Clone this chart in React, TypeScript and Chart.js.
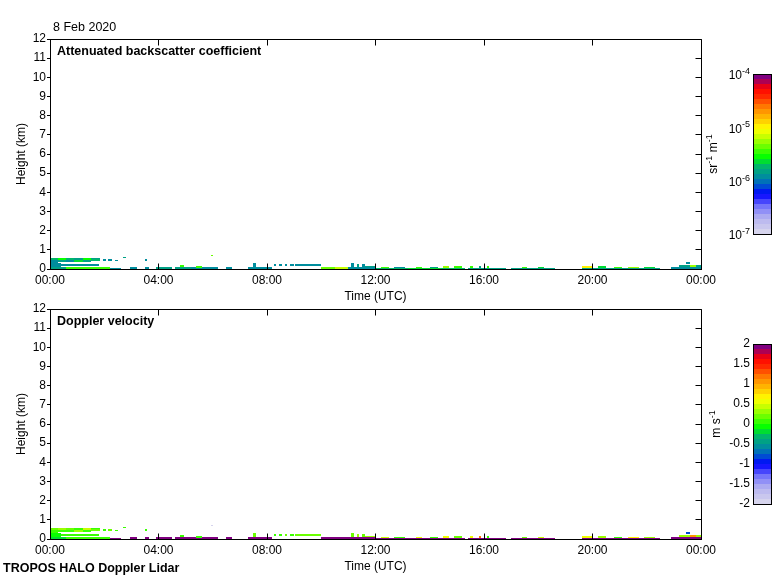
import React, { useEffect, useRef } from 'react';
import { Chart, registerables } from 'chart.js';

Chart.register(...registerables);

const FONT = '"Liberation Sans", Arial, Helvetica, sans-serif';

// ---- Data: lidar echo cells (time in hours UTC, height in km) ----
const segStart = [0.00, 0.00, 0.30, 0.30, 0.60, 0.60, 0.90, 0.90, 1.20, 1.20, 1.50, 1.50, 0.00, 0.40, 0.00, 0.60, 2.20, 1.95, 2.15, 2.40, 2.70, 3.50, 5.93, 2.95, 3.50, 3.90, 4.60, 4.80, 5.20, 5.40, 6.50, 7.30, 7.50, 8.25, 8.45, 8.65, 8.85, 9.05, 10.00, 10.50, 11.00, 11.10, 11.30, 11.50, 11.60, 12.00, 12.20, 12.70, 13.20, 13.50, 14.00, 14.40, 14.50, 14.90, 15.40, 15.50, 15.80, 16.10, 17.00, 17.40, 18.00, 19.60, 19.60, 20.20, 20.80, 21.30, 21.90, 22.90, 23.20, 23.45, 23.60];
const segEnd = [0.30, 0.30, 0.60, 0.60, 0.90, 0.90, 1.20, 1.20, 1.50, 1.50, 1.85, 1.85, 0.40, 1.80, 0.60, 2.20, 2.60, 2.05, 2.30, 2.50, 2.80, 3.58, 6.00, 3.20, 3.65, 4.50, 5.20, 4.95, 6.20, 5.60, 6.70, 8.20, 7.60, 8.35, 8.55, 8.75, 9.00, 10.00, 10.50, 11.00, 12.00, 11.20, 11.40, 11.60, 12.00, 13.20, 12.50, 13.10, 14.40, 13.70, 14.30, 15.30, 14.70, 15.20, 16.80, 15.60, 15.90, 16.20, 18.60, 17.60, 18.20, 22.50, 20.00, 20.50, 21.10, 21.70, 22.30, 24.00, 24.00, 23.60, 23.80];
const segBase = [0.33, 0.46, 0.36, 0.47, 0.36, 0.46, 0.38, 0.48, 0.38, 0.49, 0.40, 0.50, 0.10, 0.17, 0.00, 0.00, 0.00, 0.42, 0.44, 0.40, 0.56, 0.44, 0.66, 0.00, 0.00, 0.00, 0.00, 0.08, 0.00, 0.06, 0.00, 0.00, 0.10, 0.16, 0.16, 0.16, 0.16, 0.16, 0.00, 0.00, 0.00, 0.08, 0.08, 0.08, 0.08, 0.00, 0.06, 0.06, 0.00, 0.06, 0.06, 0.00, 0.06, 0.06, 0.00, 0.06, 0.06, 0.06, 0.00, 0.07, 0.07, 0.00, 0.06, 0.06, 0.06, 0.06, 0.06, 0.00, 0.10, 0.25, 0.10];
const segTop = [0.46, 0.55, 0.47, 0.56, 0.46, 0.55, 0.48, 0.58, 0.49, 0.60, 0.50, 0.60, 0.33, 0.27, 0.10, 0.12, 0.06, 0.50, 0.52, 0.48, 0.64, 0.52, 0.74, 0.08, 0.10, 0.08, 0.12, 0.20, 0.10, 0.16, 0.08, 0.10, 0.30, 0.28, 0.28, 0.28, 0.28, 0.28, 0.08, 0.08, 0.08, 0.30, 0.28, 0.25, 0.16, 0.06, 0.13, 0.12, 0.06, 0.12, 0.12, 0.06, 0.16, 0.14, 0.06, 0.14, 0.16, 0.14, 0.07, 0.12, 0.12, 0.06, 0.14, 0.14, 0.12, 0.13, 0.12, 0.10, 0.22, 0.36, 0.22];
// log10 of attenuated backscatter (sr-1 m-1)
const segBeta = [-5.90, -5.70, -5.85, -5.55, -5.90, -5.70, -5.65, -5.85, -5.85, -5.55, -5.70, -5.85, -5.90, -5.95, -5.85, -5.45, -5.90, -5.90, -5.90, -5.90, -5.85, -5.90, -5.40, -5.90, -5.90, -5.85, -5.85, -5.50, -5.90, -5.50, -5.90, -5.90, -5.90, -5.95, -5.95, -5.95, -5.95, -5.90, -5.40, -5.15, -5.90, -5.90, -5.85, -5.90, -5.85, -5.70, -5.50, -5.90, -5.60, -5.45, -5.80, -5.70, -5.30, -5.50, -5.85, -5.50, -5.80, -5.50, -5.80, -5.50, -5.60, -5.80, -5.00, -5.60, -5.50, -5.30, -5.60, -5.90, -5.85, -5.90, -5.30];
// Doppler velocity (m s-1)
const segVel = [0.0, 0.2, 0.1, 0.3, 0.0, 0.2, 0.3, 0.1, 0.1, 0.4, 0.2, 0.0, -0.1, 0.0, -0.2, 0.1, 2.0, 0.1, 0.2, 0.0, 0.1, 0.1, -1.9, 2.0, 2.0, 2.0, 2.0, 0.0, 2.0, 0.1, 2.0, 2.0, 0.2, 0.1, 0.1, 0.2, 0.1, 0.2, 2.0, 2.0, 2.0, 0.15, 0.3, 0.2, 0.3, 2.0, 0.4, 0.1, 2.0, 0.5, 0.0, 2.0, 0.6, 0.2, 2.0, 0.5, 1.2, 0.1, 2.0, 0.2, 0.4, 2.0, 0.6, 0.3, 0.1, 0.7, 0.3, 2.0, 0.3, -0.8, 1.0];

// ---- Axes / labels ----
const hourTicks = [0, 4, 8, 12, 16, 20, 24];
const heightTicks = [0, 1, 2, 3, 4, 5, 6, 7, 8, 9, 10, 11, 12];
const betaExponents = [-7, -6, -5, -4];
const velocityTicks = [-2, -1.5, -1, -0.5, 0, 0.5, 1, 1.5, 2];
const panelTitles = { beta: 'Attenuated backscatter coefficient', vel: 'Doppler velocity' };
const xTitle = 'Time (UTC)';
const yTitle = 'Height (km)';
const dateText = '8 Feb 2020';
const footerText = 'TROPOS HALO Doppler Lidar';

// ---- Colour map ----
const cmapPos = [0.0, 0.10, 0.17, 0.25, 0.31, 0.36, 0.42, 0.48, 0.56, 0.63, 0.66, 0.72, 0.79, 0.86, 0.91, 0.96, 1.0];
const cmapRGB: number[][] = [
  [220, 218, 236], [180, 178, 240], [120, 120, 250], [0, 0, 255], [0, 96, 200], [0, 142, 156],
  [0, 180, 110], [0, 255, 0], [128, 255, 0], [230, 255, 0], [255, 255, 0], [255, 192, 0],
  [255, 128, 0], [255, 40, 0], [255, 0, 0], [160, 0, 96], [128, 0, 128],
];

function cmap(fIn: number): string {
  let f = Math.max(0, Math.min(1, fIn));
  const q = Math.min(31, Math.floor(f * 32));
  f = q === 31 ? 1 : (q + 0.5) / 32;
  let i = 0;
  while (i < cmapPos.length - 2 && f > cmapPos[i + 1]) i++;
  const t = (f - cmapPos[i]) / (cmapPos[i + 1] - cmapPos[i]);
  const a = cmapRGB[i];
  const b = cmapRGB[i + 1];
  const c = a.map((v, k) => Math.round(v + (b[k] - v) * t));
  return `rgb(${c[0]},${c[1]},${c[2]})`;
}

type Kind = 'beta' | 'vel';

function valueFraction(kind: Kind, v: number): number {
  if (kind === 'beta') {
    const lo = betaExponents[0];
    const hi = betaExponents[betaExponents.length - 1];
    return (v - lo) / (hi - lo);
  }
  const lo = velocityTicks[0];
  const hi = velocityTicks[velocityTicks.length - 1];
  return (v - lo) / (hi - lo);
}

function fmtHour(v: number): string {
  const h = Math.round(v) % 24;
  return `${String(h).padStart(2, '0')}:00`;
}

function align(p: number): number {
  return Math.round(p - 0.5) + 0.5;
}

function drawRich(
  ctx: CanvasRenderingContext2D,
  parts: [string, boolean][],
  x: number,
  y: number,
  anchor: 'left' | 'right' | 'center',
  size: number,
  rotate = false,
) {
  ctx.save();
  ctx.translate(x, y);
  if (rotate) ctx.rotate(-Math.PI / 2);
  const supSize = Math.round(size * 0.75);
  const widths = parts.map(([t, s]) => {
    ctx.font = `${s ? supSize : size}px ${FONT}`;
    return ctx.measureText(t).width;
  });
  const total = widths.reduce((a, b) => a + b, 0);
  let cx = anchor === 'left' ? 0 : anchor === 'right' ? -total : -total / 2;
  ctx.textAlign = 'left';
  ctx.textBaseline = 'middle';
  ctx.fillStyle = '#000';
  parts.forEach(([t, s], i) => {
    ctx.font = `${s ? supSize : size}px ${FONT}`;
    ctx.fillText(t, cx, s ? -size * 0.38 : 0);
    cx += widths[i];
  });
  ctx.restore();
}

function makePlugin(kind: Kind) {
  return {
    id: 'lidar-' + kind,
    beforeDatasetsDraw(chart: any) {
      const { ctx, chartArea, scales } = chart;
      const x = scales.x;
      const y = scales.y;
      ctx.save();
      ctx.beginPath();
      ctx.rect(chartArea.left, chartArea.top, chartArea.right - chartArea.left, chartArea.bottom - chartArea.top);
      ctx.clip();
      for (let i = 0; i < segStart.length; i++) {
        const x0 = Math.round(x.getPixelForValue(segStart[i]));
        const x1 = Math.round(x.getPixelForValue(segEnd[i]));
        const yb = Math.round(y.getPixelForValue(segBase[i]));
        const yt = Math.round(y.getPixelForValue(segTop[i]));
        const v = kind === 'beta' ? segBeta[i] : segVel[i];
        ctx.fillStyle = cmap(valueFraction(kind, v));
        ctx.fillRect(x0, Math.min(yt, yb - 1), Math.max(1, x1 - x0), Math.max(1, yb - yt));
      }
      ctx.restore();
    },
    afterDraw(chart: any) {
      const { ctx, chartArea, scales } = chart;
      const { left, right, top, bottom } = chartArea;
      const x = scales.x;
      const y = scales.y;
      ctx.save();
      ctx.strokeStyle = '#000';
      ctx.lineWidth = 1;
      // frame
      const L = align(left), R = align(right), T = align(top), B = align(bottom);
      ctx.beginPath();
      ctx.moveTo(L, T); ctx.lineTo(R, T); ctx.lineTo(R, B); ctx.lineTo(L, B); ctx.closePath();
      ctx.stroke();
      // inward ticks
      ctx.beginPath();
      hourTicks.forEach((h) => {
        const px = align(x.getPixelForValue(h));
        ctx.moveTo(px, B); ctx.lineTo(px, B - 6);
        ctx.moveTo(px, T); ctx.lineTo(px, T + 6);
      });
      heightTicks.forEach((hk) => {
        const py = align(y.getPixelForValue(hk));
        ctx.moveTo(R, py); ctx.lineTo(R - 6, py);
      });
      ctx.stroke();

      ctx.fillStyle = '#000';
      ctx.textBaseline = 'middle';
      // panel title
      ctx.font = `bold 12.5px ${FONT}`;
      ctx.textAlign = 'left';
      ctx.fillText(panelTitles[kind], left + 7, top + 13);
      // date / footer
      if (kind === 'beta') {
        ctx.font = `12.5px ${FONT}`;
        ctx.fillText(dateText, 53, top - 11);
      } else {
        ctx.font = `bold 12.5px ${FONT}`;
        ctx.fillText(footerText, 3, bottom + 30);
      }
      // axis titles
      ctx.font = `12px ${FONT}`;
      ctx.textAlign = 'center';
      ctx.fillText(xTitle, (left + right) / 2, bottom + 28);
      ctx.save();
      ctx.translate(22, (top + bottom) / 2);
      ctx.rotate(-Math.PI / 2);
      ctx.fillText(yTitle, 0, 0);
      ctx.restore();

      // colour bar
      const cbL = right + 52, cbR = right + 70, cbT = top + 35, cbB = bottom - 35;
      const cbH = cbB - cbT;
      for (let py = cbT; py < cbB; py++) {
        ctx.fillStyle = cmap((cbB - py - 0.5) / cbH);
        ctx.fillRect(cbL, py, cbR - cbL, 1);
      }
      ctx.strokeStyle = '#000';
      ctx.strokeRect(align(cbL), align(cbT), cbR - cbL, cbH);

      if (kind === 'beta') {
        betaExponents.forEach((e) => {
          const py = cbB - valueFraction('beta', e) * cbH;
          drawRich(ctx, [['10', false], [String(e), true]], cbL - 3, py + 2, 'right', 12);
        });
        drawRich(ctx, [['sr', false], ['-1', true], [' m', false], ['-1', true]], right + 13, (cbT + cbB) / 2, 'center', 12, true);
      } else {
        velocityTicks.forEach((v) => {
          const py = cbB - valueFraction('vel', v) * cbH;
          drawRich(ctx, [[String(v), false]], cbL - 3, py, 'right', 12);
        });
        drawRich(ctx, [['m s', false], ['-1', true]], right + 16, (cbT + cbB) / 2, 'center', 12, true);
      }
      ctx.restore();
    },
  };
}

function makeConfig(kind: Kind): any {
  const padTop = kind === 'beta' ? 39 : 309;
  const padBottom = kind === 'beta' ? 271 : 1;
  const tickFont = { family: FONT, size: 12 };
  return {
    type: 'scatter',
    data: {
      datasets: [
        {
          data: segStart.map((s, i) => ({ x: (s + segEnd[i]) / 2, y: (segBase[i] + segTop[i]) / 2 })),
          pointRadius: 0,
          pointHoverRadius: 0,
        },
      ],
    },
    options: {
      animation: false,
      responsive: false,
      events: [],
      layout: { padding: { left: 0, right: 79, top: padTop, bottom: padBottom } },
      plugins: { legend: { display: false }, tooltip: { enabled: false }, title: { display: false } },
      scales: {
        x: {
          type: 'linear',
          min: 0,
          max: 24,
          afterBuildTicks: (s: any) => {
            s.ticks = hourTicks.map((v) => ({ value: v }));
          },
          ticks: {
            callback: (v: any) => fmtHour(Number(v)),
            color: '#000',
            font: tickFont,
            padding: 4,
            maxRotation: 0,
            autoSkip: false,
          },
          grid: { display: false, drawTicks: false },
          border: { display: true, color: '#000', width: 1 },
          afterFit: (s: any) => {
            s.height = 40;
          },
        },
        y: {
          type: 'linear',
          min: 0,
          max: 12,
          afterBuildTicks: (s: any) => {
            s.ticks = heightTicks.map((v) => ({ value: v }));
          },
          ticks: { color: '#000', font: tickFont, padding: 1, autoSkip: false },
          grid: { display: true, drawOnChartArea: false, drawTicks: true, tickLength: 3, color: '#000', lineWidth: 1 },
          border: { display: true, color: '#000', width: 1 },
          afterFit: (s: any) => {
            s.width = 50;
          },
        },
      },
    },
    plugins: [makePlugin(kind)],
  };
}

function LidarPanel({ kind }: { kind: Kind }) {
  const ref = useRef<HTMLCanvasElement>(null);
  useEffect(() => {
    if (!ref.current) return;
    const chart = new Chart(ref.current, makeConfig(kind));
    return () => chart.destroy();
  }, [kind]);
  return (
    <canvas
      ref={ref}
      width={780}
      height={580}
      style={{ position: 'absolute', left: 0, top: 0, width: 780, height: 580 }}
    />
  );
}

export default function App() {
  return (
    <div style={{ position: 'fixed', left: 0, top: 0, width: 780, height: 580, background: '#fff' }}>
      <LidarPanel kind="beta" />
      <LidarPanel kind="vel" />
    </div>
  );
}
